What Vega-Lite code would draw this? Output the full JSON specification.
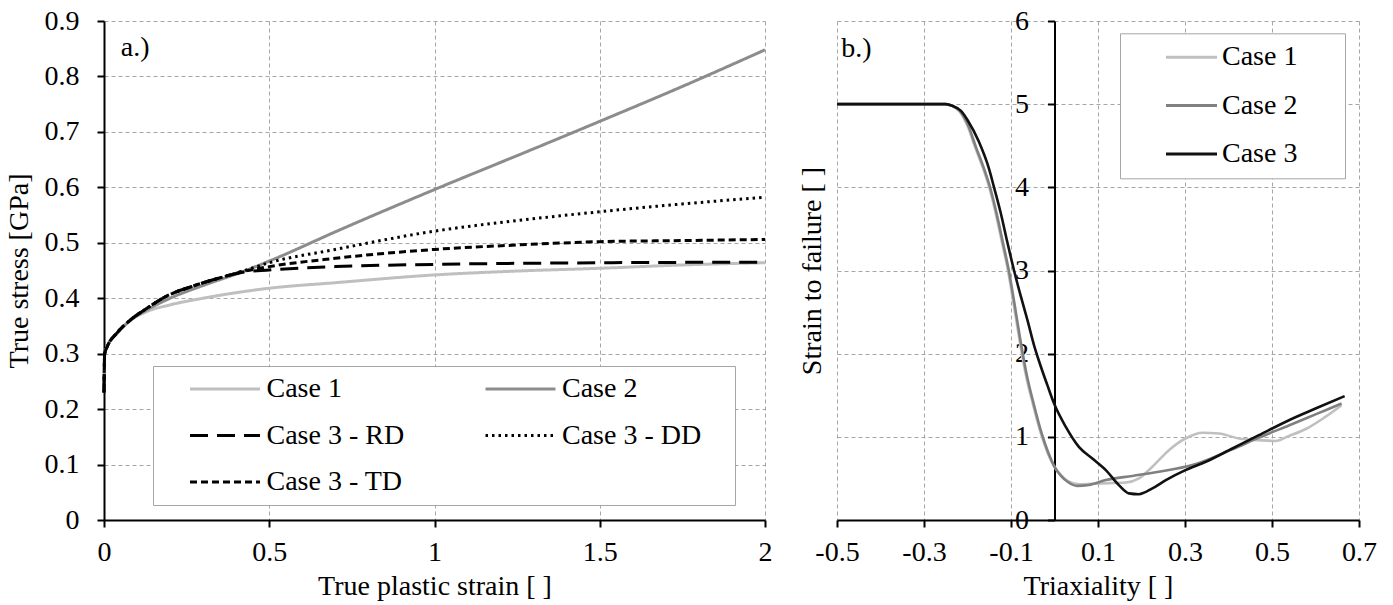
{
  "$schema": "https://vega.github.io/schema/vega-lite/v6.json",
  "background": "white",
  "padding": {"left": 5, "top": 7, "right": 5, "bottom": 2},
  "bounds": "flush",
  "spacing": 72,
  "config": {
    "font": "Liberation Serif",
    "view": {"stroke": null},
    "axis": {
      "labelFont": "Liberation Serif", "titleFont": "Liberation Serif",
      "labelFontSize": 28, "titleFontSize": 28, "titleFontWeight": "normal",
      "labelColor": "black", "titleColor": "black",
      "domainColor": "black", "domainWidth": 2, "tickColor": "black", "tickWidth": 2, "tickSize": 7,
      "gridColor": "#a6a6a6", "gridDash": [4, 3], "gridWidth": 1,
      "labelFlush": false, "labelOverlap": false
    },
    "legend": {
      "labelFont": "Liberation Serif", "labelFontSize": 28, "labelColor": "black",
      "titleFont": "Liberation Serif", "titleFontSize": 28, "titleFontWeight": "normal",
      "strokeColor": "#a6a6a6", "fillColor": "white", "symbolType": "stroke", "symbolStrokeWidth": 3
    }
  },
  "datasets": {
    "left": [
      {"series": "Case 1", "x": 0, "y": 0.23}, {"series": "Case 1", "x": 0.002, "y": 0.3}, {"series": "Case 1", "x": 0.01, "y": 0.313}, {"series": "Case 1", "x": 0.04, "y": 0.337}, {"series": "Case 1", "x": 0.08, "y": 0.36}, {"series": "Case 1", "x": 0.13, "y": 0.376}, {"series": "Case 1", "x": 0.2, "y": 0.388}, {"series": "Case 1", "x": 0.3, "y": 0.4}, {"series": "Case 1", "x": 0.4, "y": 0.41}, {"series": "Case 1", "x": 0.5, "y": 0.418}, {"series": "Case 1", "x": 0.7, "y": 0.428}, {"series": "Case 1", "x": 1.0, "y": 0.442}, {"series": "Case 1", "x": 1.25, "y": 0.449}, {"series": "Case 1", "x": 1.5, "y": 0.454}, {"series": "Case 1", "x": 1.75, "y": 0.46}, {"series": "Case 1", "x": 2.0, "y": 0.464},
      {"series": "Case 2", "x": 0, "y": 0.23}, {"series": "Case 2", "x": 0.002, "y": 0.3}, {"series": "Case 2", "x": 0.01, "y": 0.313}, {"series": "Case 2", "x": 0.04, "y": 0.337}, {"series": "Case 2", "x": 0.08, "y": 0.36}, {"series": "Case 2", "x": 0.13, "y": 0.379}, {"series": "Case 2", "x": 0.2, "y": 0.4}, {"series": "Case 2", "x": 0.3, "y": 0.423}, {"series": "Case 2", "x": 0.42, "y": 0.448}, {"series": "Case 2", "x": 0.5, "y": 0.467}, {"series": "Case 2", "x": 0.72, "y": 0.525}, {"series": "Case 2", "x": 1.0, "y": 0.596}, {"series": "Case 2", "x": 1.29, "y": 0.667}, {"series": "Case 2", "x": 1.5, "y": 0.719}, {"series": "Case 2", "x": 1.75, "y": 0.782}, {"series": "Case 2", "x": 2.0, "y": 0.848},
      {"series": "Case 3 - RD", "x": 0, "y": 0.23}, {"series": "Case 3 - RD", "x": 0.002, "y": 0.3}, {"series": "Case 3 - RD", "x": 0.01, "y": 0.313}, {"series": "Case 3 - RD", "x": 0.04, "y": 0.338}, {"series": "Case 3 - RD", "x": 0.08, "y": 0.361}, {"series": "Case 3 - RD", "x": 0.13, "y": 0.382}, {"series": "Case 3 - RD", "x": 0.19, "y": 0.404}, {"series": "Case 3 - RD", "x": 0.27, "y": 0.422}, {"series": "Case 3 - RD", "x": 0.37, "y": 0.44}, {"series": "Case 3 - RD", "x": 0.42, "y": 0.447}, {"series": "Case 3 - RD", "x": 0.5, "y": 0.451}, {"series": "Case 3 - RD", "x": 0.7, "y": 0.457}, {"series": "Case 3 - RD", "x": 1.0, "y": 0.461}, {"series": "Case 3 - RD", "x": 1.5, "y": 0.464}, {"series": "Case 3 - RD", "x": 2.0, "y": 0.465},
      {"series": "Case 3 - DD", "x": 0, "y": 0.23}, {"series": "Case 3 - DD", "x": 0.002, "y": 0.3}, {"series": "Case 3 - DD", "x": 0.01, "y": 0.313}, {"series": "Case 3 - DD", "x": 0.04, "y": 0.338}, {"series": "Case 3 - DD", "x": 0.08, "y": 0.361}, {"series": "Case 3 - DD", "x": 0.13, "y": 0.382}, {"series": "Case 3 - DD", "x": 0.19, "y": 0.404}, {"series": "Case 3 - DD", "x": 0.27, "y": 0.422}, {"series": "Case 3 - DD", "x": 0.37, "y": 0.44}, {"series": "Case 3 - DD", "x": 0.42, "y": 0.449}, {"series": "Case 3 - DD", "x": 0.5, "y": 0.464}, {"series": "Case 3 - DD", "x": 0.7, "y": 0.488}, {"series": "Case 3 - DD", "x": 1.0, "y": 0.521}, {"series": "Case 3 - DD", "x": 1.25, "y": 0.54}, {"series": "Case 3 - DD", "x": 1.5, "y": 0.556}, {"series": "Case 3 - DD", "x": 1.75, "y": 0.57}, {"series": "Case 3 - DD", "x": 2.0, "y": 0.582},
      {"series": "Case 3 - TD", "x": 0, "y": 0.23}, {"series": "Case 3 - TD", "x": 0.002, "y": 0.3}, {"series": "Case 3 - TD", "x": 0.01, "y": 0.313}, {"series": "Case 3 - TD", "x": 0.04, "y": 0.338}, {"series": "Case 3 - TD", "x": 0.08, "y": 0.361}, {"series": "Case 3 - TD", "x": 0.13, "y": 0.382}, {"series": "Case 3 - TD", "x": 0.19, "y": 0.404}, {"series": "Case 3 - TD", "x": 0.27, "y": 0.422}, {"series": "Case 3 - TD", "x": 0.37, "y": 0.44}, {"series": "Case 3 - TD", "x": 0.42, "y": 0.448}, {"series": "Case 3 - TD", "x": 0.5, "y": 0.457}, {"series": "Case 3 - TD", "x": 0.7, "y": 0.472}, {"series": "Case 3 - TD", "x": 1.0, "y": 0.488}, {"series": "Case 3 - TD", "x": 1.25, "y": 0.496}, {"series": "Case 3 - TD", "x": 1.5, "y": 0.502}, {"series": "Case 3 - TD", "x": 1.75, "y": 0.504}, {"series": "Case 3 - TD", "x": 2.0, "y": 0.506}
    ],
    "right": [
      {"case": "Case 1", "x": -0.5, "y": 5}, {"case": "Case 1", "x": -0.25, "y": 5}, {"case": "Case 1", "x": -0.235, "y": 4.98}, {"case": "Case 1", "x": -0.218, "y": 4.91}, {"case": "Case 1", "x": -0.2, "y": 4.74}, {"case": "Case 1", "x": -0.183, "y": 4.49}, {"case": "Case 1", "x": -0.165, "y": 4.24}, {"case": "Case 1", "x": -0.149, "y": 3.98}, {"case": "Case 1", "x": -0.134, "y": 3.66}, {"case": "Case 1", "x": -0.12, "y": 3.32}, {"case": "Case 1", "x": -0.107, "y": 3.0}, {"case": "Case 1", "x": -0.094, "y": 2.6}, {"case": "Case 1", "x": -0.08, "y": 2.15}, {"case": "Case 1", "x": -0.066, "y": 1.75}, {"case": "Case 1", "x": -0.049, "y": 1.38}, {"case": "Case 1", "x": -0.032, "y": 1.05}, {"case": "Case 1", "x": -0.016, "y": 0.81}, {"case": "Case 1", "x": 0.0, "y": 0.64}, {"case": "Case 1", "x": 0.015, "y": 0.54}, {"case": "Case 1", "x": 0.03, "y": 0.47}, {"case": "Case 1", "x": 0.056, "y": 0.43}, {"case": "Case 1", "x": 0.102, "y": 0.44}, {"case": "Case 1", "x": 0.164, "y": 0.45}, {"case": "Case 1", "x": 0.194, "y": 0.5}, {"case": "Case 1", "x": 0.225, "y": 0.64}, {"case": "Case 1", "x": 0.263, "y": 0.84}, {"case": "Case 1", "x": 0.301, "y": 0.98}, {"case": "Case 1", "x": 0.34, "y": 1.05}, {"case": "Case 1", "x": 0.378, "y": 1.04}, {"case": "Case 1", "x": 0.424, "y": 0.98}, {"case": "Case 1", "x": 0.47, "y": 0.96}, {"case": "Case 1", "x": 0.508, "y": 0.95}, {"case": "Case 1", "x": 0.539, "y": 1.01}, {"case": "Case 1", "x": 0.58, "y": 1.1}, {"case": "Case 1", "x": 0.62, "y": 1.23}, {"case": "Case 1", "x": 0.66, "y": 1.38},
      {"case": "Case 2", "x": -0.5, "y": 5}, {"case": "Case 2", "x": -0.25, "y": 5}, {"case": "Case 2", "x": -0.235, "y": 4.98}, {"case": "Case 2", "x": -0.216, "y": 4.91}, {"case": "Case 2", "x": -0.198, "y": 4.74}, {"case": "Case 2", "x": -0.181, "y": 4.49}, {"case": "Case 2", "x": -0.163, "y": 4.24}, {"case": "Case 2", "x": -0.147, "y": 3.98}, {"case": "Case 2", "x": -0.132, "y": 3.66}, {"case": "Case 2", "x": -0.118, "y": 3.32}, {"case": "Case 2", "x": -0.105, "y": 3.0}, {"case": "Case 2", "x": -0.092, "y": 2.6}, {"case": "Case 2", "x": -0.078, "y": 2.15}, {"case": "Case 2", "x": -0.064, "y": 1.75}, {"case": "Case 2", "x": -0.047, "y": 1.38}, {"case": "Case 2", "x": -0.03, "y": 1.05}, {"case": "Case 2", "x": -0.015, "y": 0.82}, {"case": "Case 2", "x": 0.0, "y": 0.64}, {"case": "Case 2", "x": 0.015, "y": 0.53}, {"case": "Case 2", "x": 0.03, "y": 0.46}, {"case": "Case 2", "x": 0.052, "y": 0.41}, {"case": "Case 2", "x": 0.079, "y": 0.42}, {"case": "Case 2", "x": 0.118, "y": 0.48}, {"case": "Case 2", "x": 0.179, "y": 0.53}, {"case": "Case 2", "x": 0.24, "y": 0.58}, {"case": "Case 2", "x": 0.317, "y": 0.66}, {"case": "Case 2", "x": 0.409, "y": 0.85}, {"case": "Case 2", "x": 0.47, "y": 0.99}, {"case": "Case 2", "x": 0.54, "y": 1.14}, {"case": "Case 2", "x": 0.6, "y": 1.27}, {"case": "Case 2", "x": 0.66, "y": 1.4},
      {"case": "Case 3", "x": -0.5, "y": 5}, {"case": "Case 3", "x": -0.25, "y": 5}, {"case": "Case 3", "x": -0.235, "y": 4.98}, {"case": "Case 3", "x": -0.215, "y": 4.92}, {"case": "Case 3", "x": -0.2, "y": 4.81}, {"case": "Case 3", "x": -0.174, "y": 4.55}, {"case": "Case 3", "x": -0.151, "y": 4.23}, {"case": "Case 3", "x": -0.139, "y": 4.0}, {"case": "Case 3", "x": -0.124, "y": 3.7}, {"case": "Case 3", "x": -0.108, "y": 3.33}, {"case": "Case 3", "x": -0.093, "y": 3.0}, {"case": "Case 3", "x": -0.078, "y": 2.7}, {"case": "Case 3", "x": -0.062, "y": 2.4}, {"case": "Case 3", "x": -0.047, "y": 2.1}, {"case": "Case 3", "x": -0.033, "y": 1.87}, {"case": "Case 3", "x": -0.017, "y": 1.63}, {"case": "Case 3", "x": -0.001, "y": 1.4}, {"case": "Case 3", "x": 0.026, "y": 1.12}, {"case": "Case 3", "x": 0.056, "y": 0.88}, {"case": "Case 3", "x": 0.087, "y": 0.74}, {"case": "Case 3", "x": 0.118, "y": 0.6}, {"case": "Case 3", "x": 0.148, "y": 0.42}, {"case": "Case 3", "x": 0.171, "y": 0.32}, {"case": "Case 3", "x": 0.194, "y": 0.31}, {"case": "Case 3", "x": 0.225, "y": 0.38}, {"case": "Case 3", "x": 0.256, "y": 0.48}, {"case": "Case 3", "x": 0.301, "y": 0.6}, {"case": "Case 3", "x": 0.348, "y": 0.7}, {"case": "Case 3", "x": 0.409, "y": 0.86}, {"case": "Case 3", "x": 0.47, "y": 1.02}, {"case": "Case 3", "x": 0.539, "y": 1.2}, {"case": "Case 3", "x": 0.6, "y": 1.34}, {"case": "Case 3", "x": 0.667, "y": 1.49}
    ],
    "noteA": [{"x": 0.051, "y": 0.851, "label": "a.)"}],
    "noteB": [{"x": -0.49, "y": 5.66, "label": "b.)"}]
  },
  "hconcat": [
    {
      "width": 661,
      "height": 499,
      "layer": [
        {
          "data": {"name": "left"},
          "mark": {"type": "line", "strokeWidth": 3, "interpolate": "monotone"},
          "encoding": {
            "x": {"field": "x", "type": "quantitative", "scale": {"domain": [0, 2], "nice": false},
                  "axis": {"values": [0, 0.5, 1, 1.5, 2], "format": "~g", "title": "True plastic strain [ ]", "labelPadding": 11, "titlePadding": 6}},
            "y": {"field": "y", "type": "quantitative", "scale": {"domain": [0, 0.9], "nice": false},
                  "axis": {"values": [0, 0.1, 0.2, 0.3, 0.4, 0.5, 0.6, 0.7, 0.8, 0.9], "format": "~g", "title": "True stress [GPa]", "labelPadding": 18, "titlePadding": 11}},
            "color": {"field": "series", "type": "nominal",
                      "scale": {"domain": ["Case 1", "Case 2", "Case 3 - RD", "Case 3 - DD", "Case 3 - TD"], "range": ["#bfbfbf", "#8c8c8c", "#000000", "#000000", "#000000"]},
                      "legend": {"orient": "none", "legendX": 49, "legendY": 345, "direction": "horizontal", "columns": 2, "title": "\u00a0", "titleOrient": "right", "titlePadding": 25, "symbolSize": 4900, "symbolStrokeWidth": 3, "clipHeight": 28, "symbolOffset": 26.5, "labelOffset": 5, "columnPadding": 52.5, "rowPadding": 18.5, "padding": 9}},
            "strokeDash": {"field": "series", "type": "nominal",
                      "scale": {"domain": ["Case 1", "Case 2", "Case 3 - RD", "Case 3 - DD", "Case 3 - TD"], "range": [[1, 0], [1, 0], [18, 9], [2.5, 4], [7, 4]]},
                      "legend": {"orient": "none", "legendX": 49, "legendY": 345, "direction": "horizontal", "columns": 2, "title": "\u00a0", "titleOrient": "right", "titlePadding": 25, "symbolSize": 4900, "symbolStrokeWidth": 3, "clipHeight": 28, "symbolOffset": 26.5, "labelOffset": 5, "columnPadding": 52.5, "rowPadding": 18.5, "padding": 9}}
          }
        },
        {
          "data": {"name": "noteA"},
          "mark": {"type": "text", "align": "left", "baseline": "middle", "fontSize": 28, "font": "Liberation Serif", "color": "black"},
          "encoding": {
            "x": {"field": "x", "type": "quantitative"},
            "y": {"field": "y", "type": "quantitative"},
            "text": {"field": "label"}
          }
        }
      ]
    },
    {
      "width": 522,
      "height": 499,
      "layer": [
        {
          "data": {"name": "right"},
          "mark": {"type": "line", "strokeWidth": 2.6, "interpolate": "monotone"},
          "encoding": {
            "x": {"field": "x", "type": "quantitative", "scale": {"domain": [-0.5, 0.7], "nice": false},
                  "axis": {"values": [-0.5, -0.3, -0.1, 0.1, 0.3, 0.5, 0.7], "labelExpr": "datum.value < 0 ? '-' + format(-datum.value, '~g') : format(datum.value, '~g')", "title": "Triaxiality [ ]", "labelPadding": 11, "titlePadding": 6}},
            "y": {"field": "y", "type": "quantitative", "scale": {"domain": [0, 6], "nice": false},
                  "axis": {"values": [0, 1, 2, 3, 4, 5, 6], "format": "~g", "offset": -217.5, "title": "Strain to failure [ ]", "titleX": -228, "labelPadding": 19}},
            "color": {"field": "case", "type": "nominal",
                      "scale": {"domain": ["Case 1", "Case 2", "Case 3"], "range": ["#c0c0c0", "#808080", "#111111"]},
                      "legend": {"orient": "none", "legendX": 283, "legendY": 12.3, "title": "\u00a0", "titleOrient": "right", "titlePadding": 38, "symbolSize": 2601, "symbolStrokeWidth": 3, "clipHeight": 28, "symbolOffset": 34.5, "labelOffset": 3.5, "rowPadding": 20.3, "padding": 10}}
          }
        },
        {
          "data": {"name": "noteB"},
          "mark": {"type": "text", "align": "left", "baseline": "middle", "fontSize": 28, "font": "Liberation Serif", "color": "black"},
          "encoding": {
            "x": {"field": "x", "type": "quantitative"},
            "y": {"field": "y", "type": "quantitative"},
            "text": {"field": "label"}
          }
        }
      ]
    }
  ],
  "resolve": {"scale": {"color": "independent", "strokeDash": "independent"}}
}
